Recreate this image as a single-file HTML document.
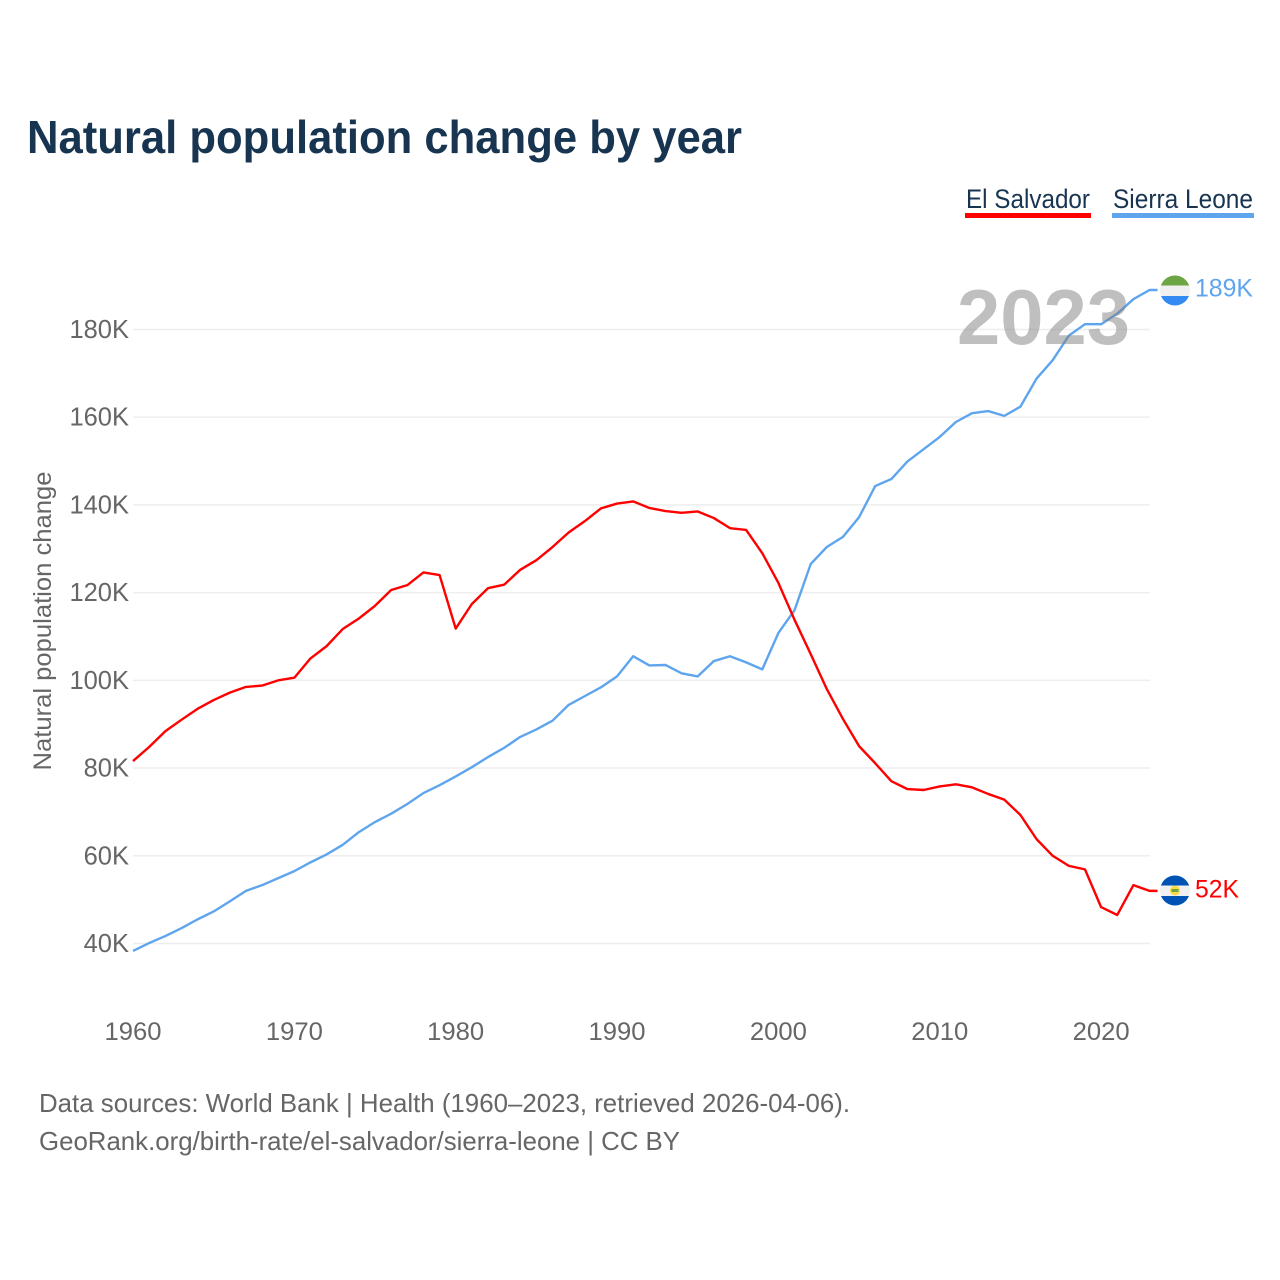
<!DOCTYPE html>
<html lang="en">
<head>
<meta charset="utf-8">
<title>Natural population change by year</title>
<style>
html,body{margin:0;padding:0;background:#fff;width:1280px;height:1280px;overflow:hidden}
svg{display:block}
text{font-family:"Liberation Sans",sans-serif}
</style>
</head>
<body>
<svg id="chart" width="1280" height="1280" viewBox="0 0 1280 1280" xmlns="http://www.w3.org/2000/svg">
  <defs>
    <clipPath id="flag-clip-top"><circle cx="1175" cy="290.5" r="15"/></clipPath>
    <clipPath id="flag-clip-bottom"><circle cx="1175" cy="890.5" r="15"/></clipPath>
  </defs>
  <rect width="1280" height="1280" fill="#fff"/>
  <text x="27" y="153" font-size="46" font-weight="700" fill="#173451" textLength="715" lengthAdjust="spacingAndGlyphs">Natural population change by year</text>

  <g>
    <g>
      <text x="966" y="208" font-size="27" fill="#173451" textLength="124" lengthAdjust="spacingAndGlyphs">El Salvador</text>
      <rect x="965" y="213" width="126" height="5" fill="#ff0000"/>
    </g>
    <g>
      <text x="1113" y="208" font-size="27" fill="#173451" textLength="140" lengthAdjust="spacingAndGlyphs">Sierra Leone</text>
      <rect x="1112" y="213" width="142" height="5" fill="#5fa5ee"/>
    </g>
  </g>

  <g id="grid"></g>
  <g id="y-ticks"></g>
  <g id="x-ticks"></g>
  <text transform="translate(51,621) rotate(-90)" text-anchor="middle" font-size="25" fill="#666" textLength="299" lengthAdjust="spacingAndGlyphs">Natural population change</text>

  <g id="series"></g>

  <text x="957" y="344" font-size="78" font-weight="700" fill="#808080" fill-opacity="0.5" textLength="173" lengthAdjust="spacingAndGlyphs">2023</text>

  <g clip-path="url(#flag-clip-top)">
    <rect x="1160" y="275" width="30" height="11" fill="#6da544"/>
    <rect x="1160" y="285.5" width="30" height="10.5" fill="#f0f0f0"/>
    <rect x="1160" y="296" width="30" height="11" fill="#338af3"/>
  </g>
  <g clip-path="url(#flag-clip-bottom)">
    <rect x="1160" y="875" width="30" height="11" fill="#0052b4"/>
    <rect x="1160" y="885.5" width="30" height="10.5" fill="#f0f0f0"/>
    <rect x="1160" y="896" width="30" height="11" fill="#0052b4"/>
    <circle cx="1175" cy="890.5" r="5" fill="#ffda44"/>
    <rect x="1171.5" y="889" width="7" height="3" fill="#6da544"/>
  </g>
  <g id="end-labels"></g>

  <text x="39" y="1112" font-size="26" fill="#666" textLength="811" lengthAdjust="spacingAndGlyphs">Data sources: World Bank | Health (1960–2023, retrieved 2026-04-06).</text>
  <text x="39" y="1150" font-size="26" fill="#666" textLength="641" lengthAdjust="spacingAndGlyphs">GeoRank.org/birth-rate/el-salvador/sierra-leone | CC BY</text>
</svg>
<script>
const startYear = 1960;
const xTickYears = [1960, 1970, 1980, 1990, 2000, 2010, 2020];
const yTickValues = [40, 60, 80, 100, 120, 140, 160, 180];
const elSalvadorValues = [
  81.6, 84.8, 88.4, 91, 93.5, 95.5, 97.2, 98.5, 98.8, 100,
  100.6, 105, 107.8, 111.7, 114.1, 117, 120.6, 121.7, 124.6, 124,
  111.8, 117.4, 121, 121.8, 125.2, 127.4, 130.4, 133.7, 136.3, 139.2,
  140.3, 140.8, 139.3, 138.6, 138.2, 138.5, 137, 134.7, 134.3, 129,
  122.2, 113.8, 106, 98, 91.2, 85, 81.1, 77, 75.2, 75,
  75.8, 76.3, 75.6, 74.1, 72.8, 69.3, 63.8, 60, 57.7, 56.9,
  48.3, 46.5, 53.3, 52
];
const sierraLeoneValues = [
  38.3, 40.1, 41.7, 43.5, 45.5, 47.3, 49.6, 52, 53.3, 54.9,
  56.5, 58.5, 60.3, 62.5, 65.4, 67.7, 69.6, 71.8, 74.3, 76.1,
  78.1, 80.2, 82.5, 84.6, 87.1, 88.8, 90.8, 94.4, 96.4, 98.4,
  100.9, 105.5, 103.4, 103.5, 101.6, 100.9, 104.4, 105.5, 104.1, 102.5,
  110.8, 116, 126.5, 130.4, 132.7, 137.2, 144.3, 145.9, 149.9, 152.7,
  155.5, 158.9, 160.9, 161.4, 160.3, 162.4, 168.8, 173, 178.6, 181.2,
  181.2, 183.6, 186.9, 189
];

const SVG_NS = 'http://www.w3.org/2000/svg';
const xScale = function (year) { return 133 + (year - 1960) * 16.135; };
const yScale = function (value) { return 943.5 - (value - 40) * 4.386; };

function make(tag, parent) {
  const el = document.createElementNS(SVG_NS, tag);
  parent.appendChild(el);
  return el;
}

const grid = document.getElementById('grid');
const yTicks = document.getElementById('y-ticks');
const xTicks = document.getElementById('x-ticks');
const series = document.getElementById('series');
const endLabels = document.getElementById('end-labels');

yTickValues.forEach(function (value) {
  const line = make('line', grid);
  
  
  line.setAttribute('x1', 133);
  line.setAttribute('x2', 1150);
  line.setAttribute('y1', yScale(value));
  line.setAttribute('y2', yScale(value));
  line.setAttribute('stroke', '#eeeeee');
  line.setAttribute('stroke-width', 1.5);

  const label = make('text', yTicks);
  
  
  label.setAttribute('x', 129);
  label.setAttribute('y', yScale(value) + 8.5);
  label.setAttribute('text-anchor', 'end');
  label.setAttribute('font-size', 25.5);
  label.setAttribute('fill', '#666');
  label.textContent = value + 'K';
});

xTickYears.forEach(function (year) {
  const label = make('text', xTicks);
  
  
  label.setAttribute('x', xScale(year));
  label.setAttribute('y', 1040);
  label.setAttribute('text-anchor', 'middle');
  label.setAttribute('font-size', 25);
  label.setAttribute('fill', '#666');
  label.setAttribute('textLength', 57);
  label.setAttribute('lengthAdjust', 'spacingAndGlyphs');
  label.textContent = String(year);
});

function drawSeries(values, color, lineName, labelName, labelWidth) {
  const points = values.map(function (value, i) {
    return xScale(startYear + i).toFixed(2) + ',' + yScale(value).toFixed(2);
  });
  const lastValue = values[values.length - 1];
  const lastYear = startYear + values.length - 1;
  points.push((xScale(lastYear) + 8).toFixed(2) + ',' + yScale(lastValue).toFixed(2));

  const line = make('polyline', series);
  
  
  line.setAttribute('points', points.join(' '));
  line.setAttribute('fill', 'none');
  line.setAttribute('stroke', color);
  line.setAttribute('stroke-width', 2.4);
  line.setAttribute('stroke-linejoin', 'round');

  const label = make('text', endLabels);
  
  
  label.setAttribute('x', 1195);
  label.setAttribute('y', yScale(lastValue) + 6.5);
  label.setAttribute('font-size', 25);
  label.setAttribute('fill', color);
  label.setAttribute('textLength', labelWidth);
  label.setAttribute('lengthAdjust', 'spacingAndGlyphs');
  label.textContent = Math.round(lastValue) + 'K';
}

drawSeries(sierraLeoneValues, '#5fa5ee', 'line-sierra-leone', 'end-label-sierra-leone', 58);
drawSeries(elSalvadorValues, '#ff0000', 'line-el-salvador', 'end-label-el-salvador', 44);
</script>
</body>
</html>
